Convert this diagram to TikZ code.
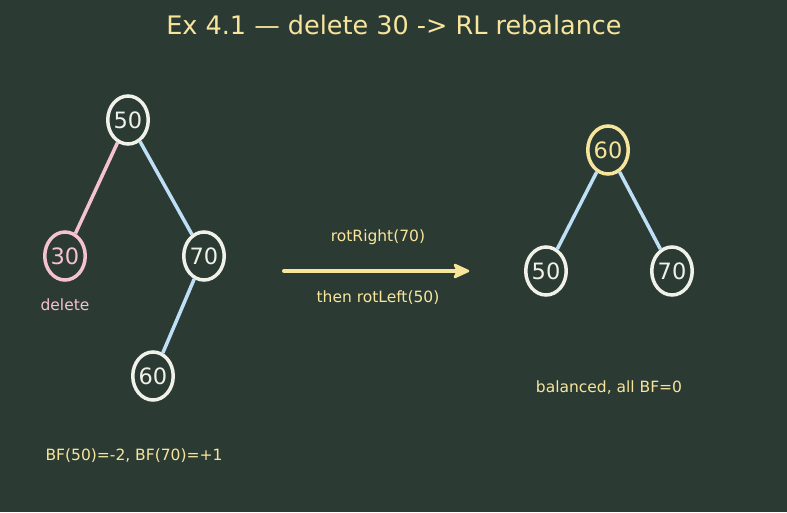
\documentclass[tikz,border=0pt]{standalone}
\usepackage{fontspec}
\setmainfont{DejaVu Sans}
\usetikzlibrary{shapes.geometric,arrows.meta}
\definecolor{bg}{HTML}{2B3B34}
\definecolor{nodew}{HTML}{F0F1E8}
\definecolor{pinkc}{HTML}{F5C2D0}
\definecolor{bluec}{HTML}{BEE0F7}
\definecolor{yellc}{HTML}{F8E59C}
\tikzset{
  tnode/.style={ellipse, draw=nodew, line width=3.5pt, minimum width=40pt, minimum height=48pt, inner sep=0pt, text=nodew, font=\fontsize{22.5}{26}\selectfont},
  edgeb/.style={draw=bluec, line width=3.5pt},
  edgep/.style={draw=pinkc, line width=3.5pt},
  lbl/.style={font=\fontsize{15.5}{18}\selectfont, text=yellc},
}
\begin{document}
\begin{tikzpicture}[x=1pt,y=-1pt]
\fill[bg] (0,0) rectangle (787,512);
\useasboundingbox (0,0) rectangle (787,512);
\node[text=yellc, font=\fontsize{25.5}{30}\selectfont] (title) at (394,25) {Ex 4.1 — delete 30 -> RL rebalance};
% left tree
\node[tnode] (a50) at (128,120) {50};
\node[tnode, draw=pinkc, text=pinkc] (a30) at (65,256) {30};
\node[tnode] (a70) at (204,256) {70};
\node[tnode] (a60) at (153,376) {60};
\draw[edgep] (a50) -- (a30);
\draw[edgeb] (a50) -- (a70);
\draw[edgeb] (a70) -- (a60);
\node[lbl, text=pinkc] (del) at (65,305) {delete};
\node[lbl] (bf) at (134,456) {BF(50)=-2, BF(70)=+1};
% arrow
\coordinate (as) at (284,271);
\coordinate (ae) at (468,271);
\draw[yellc, line width=4pt, line cap=round] (as) -- ([xshift=-8pt]ae);
\filldraw[yellc, line width=2.5pt, line join=round] (ae) -- ++(-13,-6) -- ++(3,6) -- ++(-3,6) -- cycle;
\node[lbl] (rr) at (378,237) {rotRight(70)};
\node[lbl] (rl) at (378,298) {then rotLeft(50)};
% right tree
\node[tnode, draw=yellc, text=yellc] (b60) at (608,150) {60};
\node[tnode] (b50) at (546,271) {50};
\node[tnode] (b70) at (672,271) {70};
\draw[edgeb] (b60) -- (b50);
\draw[edgeb] (b60) -- (b70);
\node[lbl] (bal) at (609,388) {balanced, all BF=0};
\end{tikzpicture}
\end{document}
